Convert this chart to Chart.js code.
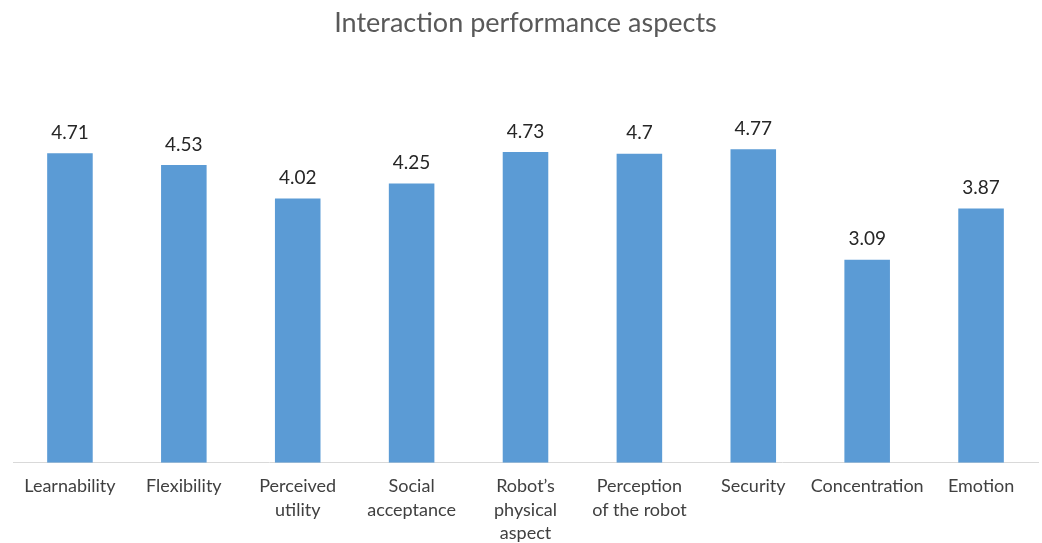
<!DOCTYPE html>
<html>
<head>
<meta charset="utf-8">
<script src="https://cdn.jsdelivr.net/npm/chart.js@4"></script>
<style>
  body { margin: 0; background: #fff; }
  #wrap { width: 1042px; height: 543px; }
</style>
</head>
<body>
<div id="wrap"><canvas id="myChart"></canvas></div>
<script>
// categories (multi-line labels as in the original)
const categories = [
    'Learnability',
    'Flexibility',
    ['Perceived', 'utility'],
    ['Social', 'acceptance'],
    ['Robot\u2019s', 'physical', 'aspect'],
    ['Perception', 'of the robot'],
    'Security',
    'Concentration',
    'Emotion'
]
// mean scores
const scores = [4.71, 4.53, 4.02, 4.25, 4.73, 4.7, 4.77, 3.09, 3.87]

// draw the value above each bar
const valueLabels = {
    id: 'valueLabels',
    afterDatasetsDraw(chart) {
        const ctx = chart.ctx
        const meta = chart.getDatasetMeta(0)
        ctx.save()
        ctx.font = '19px Lato, "Open Sans", sans-serif'
        ctx.fillStyle = '#262626'
        ctx.textAlign = 'center'
        ctx.textBaseline = 'bottom'
        meta.data.forEach((bar, i) => {
            ctx.fillText(String(scores[i]), bar.x, bar.y - 11)
        })
        ctx.restore()
    }
}

let myChart = document.querySelector('#myChart').getContext('2d')
let aspectsChart = new Chart(myChart, {
    type: 'bar',
    data: {
        labels: categories,
        datasets: [{
            label: 'Score',
            data: scores,
            backgroundColor: '#5B9BD5',
            barPercentage: 0.4,
            categoryPercentage: 1
        }]
    },
    options: {
        responsive: true,
        maintainAspectRatio: false,
        animation: false,
        layout: { padding: { left: 13, right: 4, top: 0, bottom: 0 } },
        plugins: {
            legend: { display: false },
            tooltip: { enabled: false },
            title: {
                display: true,
                text: 'Interaction performance aspects',
                color: '#595959',
                font: { family: 'Lato, "Open Sans", sans-serif', size: 27, weight: 'normal' },
                padding: { top: 7, bottom: 29 }
            }
        },
        scales: {
            x: {
                grid: { display: false, drawTicks: false },
                border: { display: true, color: '#d9d9d9', width: 1 },
                ticks: {
                    color: '#404040',
                    font: { family: 'Lato, "Open Sans", sans-serif', size: 18, lineHeight: 1.3 },
                    padding: 12,
                    maxRotation: 0,
                    autoSkip: false
                },
                // the three-line labels hang lower than the default box allows
                afterFit(scale) { scale.height -= 14 }
            },
            y: {
                display: false,
                min: 0,
                max: 6
            }
        }
    },
    plugins: [valueLabels]
})
</script>
</body>
</html>
